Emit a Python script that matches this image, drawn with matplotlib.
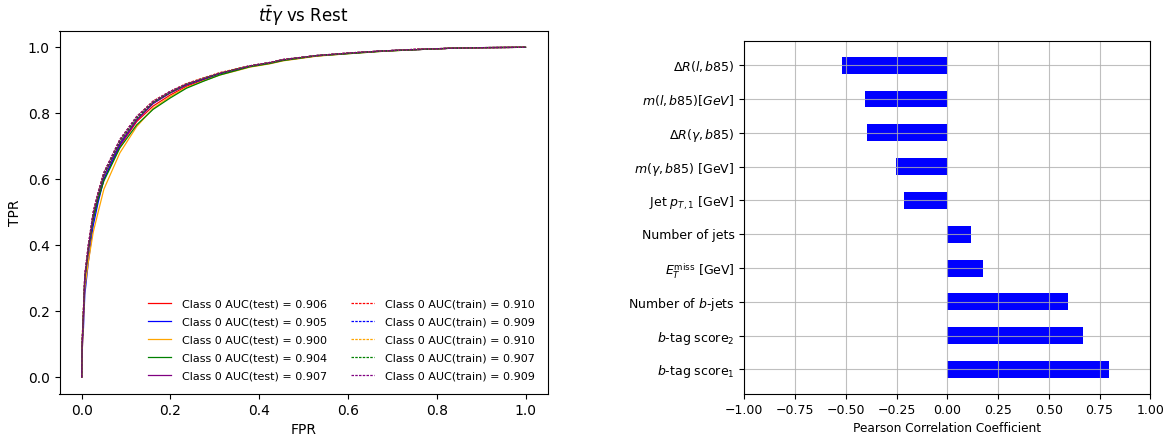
import matplotlib
matplotlib.use("Agg")
import matplotlib.pyplot as plt

# ---------------- ROC data ----------------
fpr = [0, 0.001, 0.004, 0.007, 0.015, 0.026, 0.037, 0.05, 0.086, 0.124, 0.161,
       0.199, 0.236, 0.274, 0.311, 0.349, 0.379, 0.424, 0.454, 0.529, 0.604,
       0.679, 0.755, 0.830, 0.905, 1.0]

tpr_test_red = [0, 0.09, 0.19, 0.29, 0.38, 0.48, 0.54, 0.60, 0.70, 0.775, 0.822, 0.855, 0.882,
                0.901, 0.919, 0.932, 0.942, 0.952, 0.961, 0.974, 0.982, 0.989, 0.993, 0.997, 0.999, 1.0]
tpr_test_blue = [0, 0.08, 0.15, 0.25, 0.35, 0.46, 0.53, 0.60, 0.705, 0.78, 0.83, 0.862, 0.886,
                 0.903, 0.919, 0.932, 0.942, 0.952, 0.961, 0.974, 0.982, 0.989, 0.993, 0.997, 0.999, 1.0]
tpr_test_orange = [0, 0.07, 0.17, 0.27, 0.35, 0.44, 0.50, 0.57, 0.68, 0.76, 0.815, 0.85, 0.878,
                   0.898, 0.916, 0.929, 0.940, 0.950, 0.959, 0.973, 0.981, 0.988, 0.993, 0.997, 0.999, 1.0]
tpr_test_green = [0, 0.10, 0.20, 0.30, 0.39, 0.48, 0.54, 0.595, 0.695, 0.765, 0.812, 0.846, 0.876,
                  0.897, 0.916, 0.930, 0.941, 0.951, 0.960, 0.974, 0.981, 0.988, 0.993, 0.997, 0.999, 1.0]
tpr_test_purple = [0, 0.10, 0.19, 0.30, 0.39, 0.49, 0.55, 0.61, 0.71, 0.78, 0.83, 0.861, 0.886,
                   0.904, 0.921, 0.933, 0.943, 0.953, 0.962, 0.975, 0.982, 0.989, 0.993, 0.997, 0.999, 1.0]

tpr_train_red = [0, 0.11, 0.21, 0.31, 0.40, 0.50, 0.56, 0.62, 0.72, 0.79, 0.837, 0.866, 0.890,
                 0.907, 0.923, 0.935, 0.944, 0.954, 0.963, 0.975, 0.983, 0.989, 0.994, 0.997, 0.999, 1.0]
tpr_train_blue = [0, 0.10, 0.20, 0.31, 0.40, 0.50, 0.56, 0.62, 0.72, 0.79, 0.836, 0.866, 0.889,
                  0.906, 0.922, 0.934, 0.944, 0.954, 0.963, 0.975, 0.983, 0.989, 0.994, 0.997, 0.999, 1.0]
tpr_train_orange = [0, 0.11, 0.21, 0.31, 0.40, 0.50, 0.56, 0.62, 0.72, 0.79, 0.837, 0.866, 0.890,
                    0.907, 0.923, 0.935, 0.944, 0.954, 0.963, 0.975, 0.983, 0.989, 0.994, 0.997, 0.999, 1.0]
tpr_train_green = [0, 0.10, 0.20, 0.30, 0.39, 0.49, 0.55, 0.615, 0.715, 0.785, 0.833, 0.863, 0.888,
                   0.905, 0.921, 0.934, 0.943, 0.953, 0.962, 0.975, 0.982, 0.989, 0.993, 0.997, 0.999, 1.0]
tpr_train_purple = [0, 0.10, 0.20, 0.31, 0.40, 0.50, 0.56, 0.62, 0.72, 0.79, 0.836, 0.866, 0.889,
                    0.906, 0.922, 0.934, 0.944, 0.954, 0.963, 0.975, 0.983, 0.989, 0.994, 0.997, 0.999, 1.0]

auc_test = [0.906, 0.905, 0.900, 0.904, 0.907]
auc_train = [0.910, 0.909, 0.910, 0.907, 0.909]
curve_colors = ["red", "blue", "orange", "green", "purple"]

# ---------------- Correlation data ----------------
features = [r"$b$-tag score$_1$", r"$b$-tag score$_2$", r"Number of $b$-jets",
            r"$E_T^{\mathrm{miss}}$ [GeV]", "Number of jets", r"Jet $p_{T,1}$ [GeV]",
            r"$m(\gamma, b85)$ [GeV]", r"$\Delta R(\gamma, b85)$", r"$m(l, b85) [GeV]$",
            r"$\Delta R(l, b85)$"]
corr = [0.799, 0.667, 0.593, 0.175, 0.116, -0.214, -0.254, -0.397, -0.407, -0.521]
corr_ticks = [-1.0, -0.75, -0.5, -0.25, 0.0, 0.25, 0.5, 0.75, 1.0]

W, H = 1174, 436
fig = plt.figure(figsize=(W / 100, H / 100), dpi=100)

# ---- left: ROC ----
ax1 = fig.add_axes([59.5 / W, 1 - 393.8 / H, (547.7 - 59.5) / W, (393.8 - 30.8) / H])
tests = [tpr_test_red, tpr_test_blue, tpr_test_orange, tpr_test_green, tpr_test_purple]
trains = [tpr_train_red, tpr_train_blue, tpr_train_orange, tpr_train_green, tpr_train_purple]
handles_test, handles_train = [], []
for c, t, a in zip(curve_colors, tests, auc_test):
    h, = ax1.plot(fpr, t, color=c, lw=0.9, label=f"Class 0 AUC(test) = {a:.3f}")
    handles_test.append(h)
for c, t, a in zip(curve_colors, trains, auc_train):
    h, = ax1.plot(fpr, t, color=c, lw=0.9, ls=(0, (2, 1)), label=f"Class 0 AUC(train) = {a:.3f}")
    handles_train.append(h)
ax1.set_xlim(-0.05, 1.05)
ax1.set_ylim(-0.05, 1.05)
ax1.set_xlabel("FPR", fontsize=10)
ax1.set_ylabel("TPR", fontsize=10)
ax1.set_title(r"$t\bar{t}\gamma$ vs Rest", fontsize=12)
ax1.tick_params(labelsize=10)
ax1.legend(handles_test + handles_train, [h.get_label() for h in handles_test + handles_train],
           ncol=2, loc="lower right", fontsize=8, frameon=False, handlelength=2.1,
           columnspacing=2.1, labelspacing=0.72, handletextpad=1.0, borderaxespad=0.75)

# ---- right: correlation ----
ax2 = fig.add_axes([744.3 / W, 1 - 394 / H, (1150.3 - 744.3) / W, (394 - 40.7) / H])
ypos = list(range(len(features)))
ax2.barh(ypos, corr, height=0.5, color="blue")
ax2.set_yticks(ypos)
ax2.set_yticklabels(features)
ax2.set_xlim(-1, 1)
ax2.set_xticks(corr_ticks)
ax2.set_xticklabels([f"{v:.2f}".replace("-", "\u2212") for v in corr_ticks])
ax2.tick_params(labelsize=9)
ax2.set_xlabel("Pearson Correlation Coefficient", fontsize=8.75)
ax2.grid(True, color="#b0b0b0", lw=0.8, alpha=0.8)

fig.savefig("out.png", dpi=100)
